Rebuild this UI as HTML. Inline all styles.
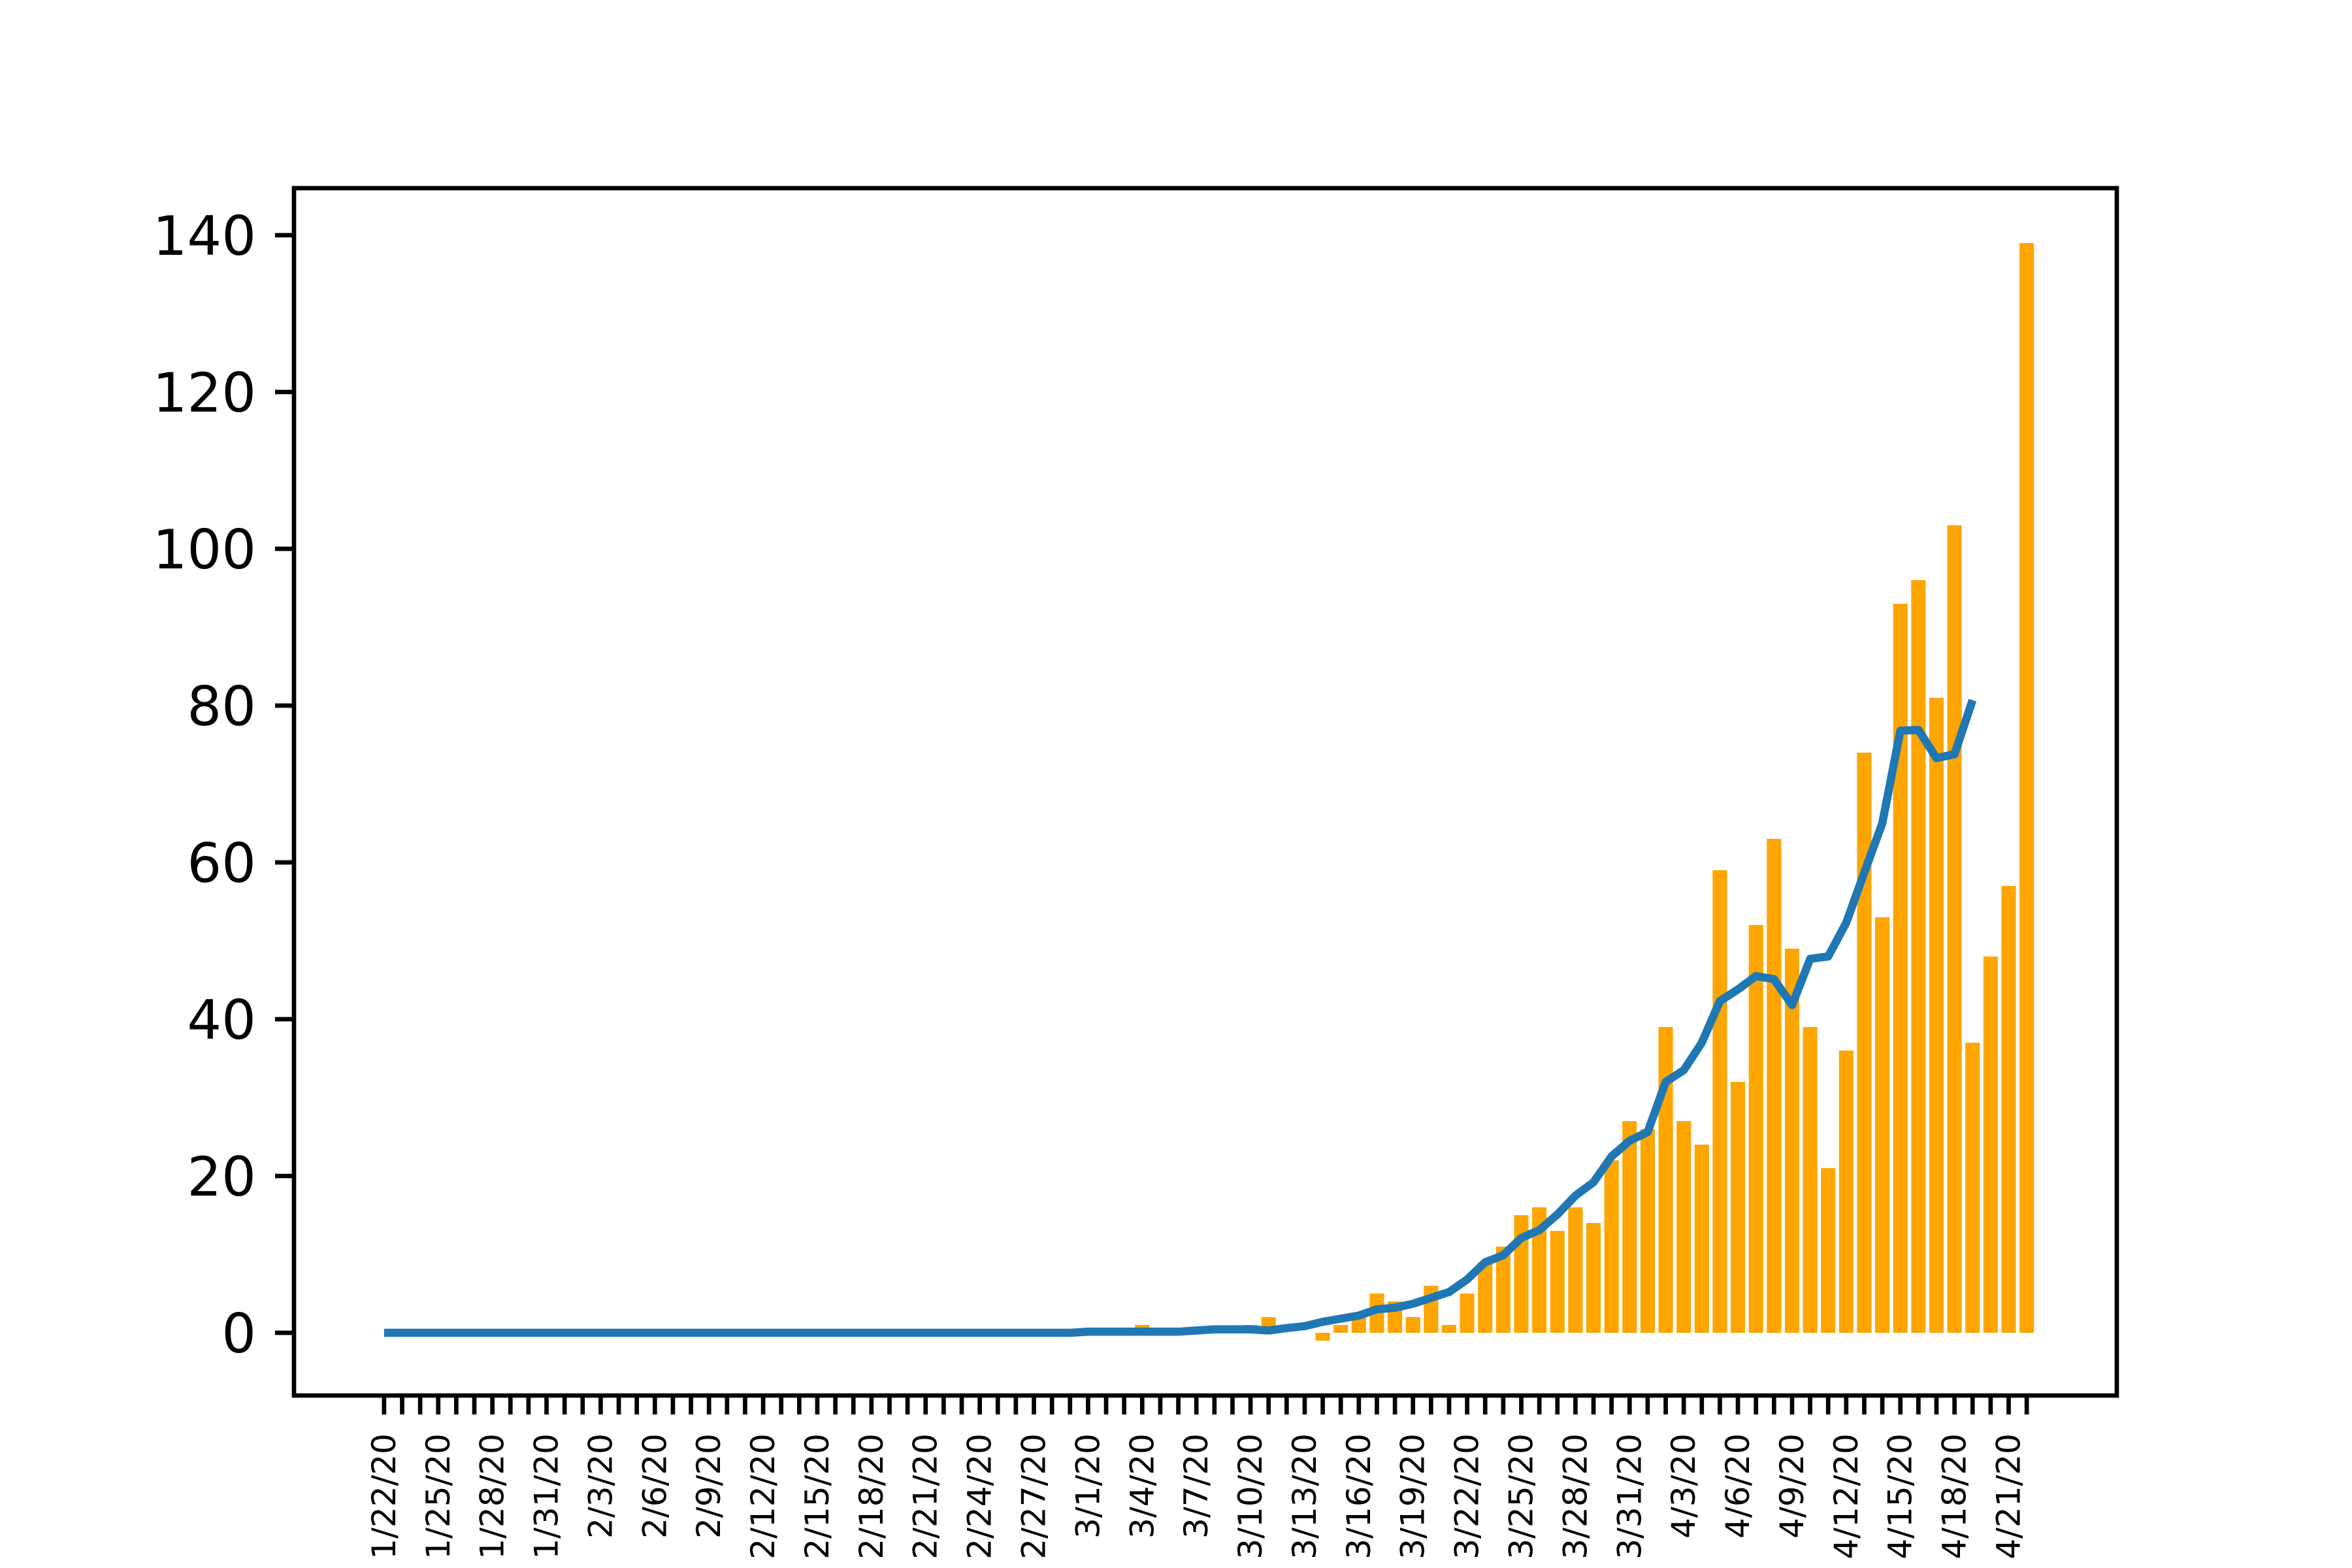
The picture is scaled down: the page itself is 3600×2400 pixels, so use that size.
<!DOCTYPE html>
<html><head><meta charset="utf-8"><style>html,body{margin:0;padding:0;background:#fff}svg{display:block}</style></head>
<body>
<svg id="chart" width="3600" height="2400" viewBox="0 0 3600 2400" xmlns="http://www.w3.org/2000/svg" font-family="DejaVu Sans, Liberation Sans, sans-serif">
<rect width="3600" height="2400" fill="#fff"/>
<g id="bars"></g>
<g id="line"></g>
<rect x="450" y="288" width="2790" height="1848" fill="none" stroke="#000" stroke-width="6.7"/>
<g id="xaxis"></g>
<g id="yaxis"></g>
</svg>
<script>
const barValues = [0,0,0,0,0,0,0,0,0,0, 0,0,0,0,0,0,0,0,0,0, 0,0,0,0,0,0,0,0,0,0, 0,0,0,0,0,0,0,0,0,0, 0,0,1,0,0,0,0,0,1,2, 0,0,-1,1,2,5,4,2,6,1, 5,9,11,15,16,13,16,14,22,27, 26,39,27,24,59,32,52,63,49,39, 21,36,74,53,93,96,81,103,37,48, 57,139];
const lineValues = [0,0,0,0,0,0,0,0,0,0, 0,0,0,0,0,0,0,0,0,0, 0,0,0,0,0,0,0,0,0,0, 0,0,0,0,0,0,0,0,0,0.14, 0.14,0.14,0.14,0.14,0.14,0.29,0.43,0.43,0.43,0.29, 0.6,0.85,1.4,1.8,2.2,3.0,3.2,3.7,4.45,5.2, 6.8,9.0,9.9,12.1,13.1,15.1,17.5,19.2,22.5,24.5, 25.6,32.0,33.5,37.0,42.3,43.8,45.5,45.1,41.8,47.7, 48.0,52.3,58.7,65.0,76.8,76.9,73.3,73.8,80.7];
const yTicks = [0,20,40,60,80,100,120,140];
const startDate = new Date(2020,0,22);
const NS='http://www.w3.org/2000/svg';
const n = barValues.length;
const xMin = -0.4 - 0.05*(n-1+0.8), xMax = n-1+0.4 + 0.05*(n-1+0.8);
const yLo = Math.min(0, ...barValues), yHi = Math.max(...barValues);
const yMin = yLo - 0.05*(yHi-yLo), yMax = yHi + 0.05*(yHi-yLo);
const L=450,R=3240,T=288,B=2136;
const X = v => L + (v-xMin)/(xMax-xMin)*(R-L);
const Y = v => B - (v-yMin)/(yMax-yMin)*(B-T);
function mk(tag, attrs, parent){const e=document.createElementNS(NS,tag);for(const k in attrs)e.setAttribute(k,attrs[k]);parent.appendChild(e);return e;}
const gb=document.getElementById('bars');
const bw = 0.8*(X(1)-X(0));
barValues.forEach((v,i)=>{
  const y0=Y(0), y1=Y(v);
  const r=mk('rect',{x:X(i)-bw/2,y:Math.min(y0,y1),width:bw,height:Math.abs(y0-y1),fill:'#FFA500'},gb);
  
  
});
const gl=document.getElementById('line');
const pts=lineValues.map((v,i)=>X(i).toFixed(1)+','+Y(v).toFixed(1)).join(' ');
const pl=mk('polyline',{points:pts,fill:'none',stroke:'#1f77b4','stroke-width':12.5,'stroke-linejoin':'round','stroke-linecap':'butt'},gl);


const gx=document.getElementById('xaxis');
for(let i=0;i<n;i++){
  const t=mk('line',{x1:X(i),x2:X(i),y1:B,y2:B+29,stroke:'#000','stroke-width':6.7},gx);
  
  
  if(i%3===0){
    const d=new Date(startDate.getTime()+i*86400000);
    const s=(d.getMonth()+1)+'/'+d.getDate()+'/20';
    const x=X(i)+17, y=B+29+29;
    const tx=mk('text',{x:x,y:y,'font-size':50,'text-anchor':'end',transform:'rotate(-90 '+x+' '+y+')'},gx);
    tx.textContent=s;
    
    
  }
}
const gy=document.getElementById('yaxis');
yTicks.forEach(v=>{
  const t=mk('line',{x1:L-29,x2:L,y1:Y(v),y2:Y(v),stroke:'#000','stroke-width':6.7},gy);
  
  
  const tx=mk('text',{x:L-29-29,y:Y(v)+30,'font-size':83,'text-anchor':'end'},gy);
  tx.textContent=String(v);
  
  
});
</script>
</body></html>
